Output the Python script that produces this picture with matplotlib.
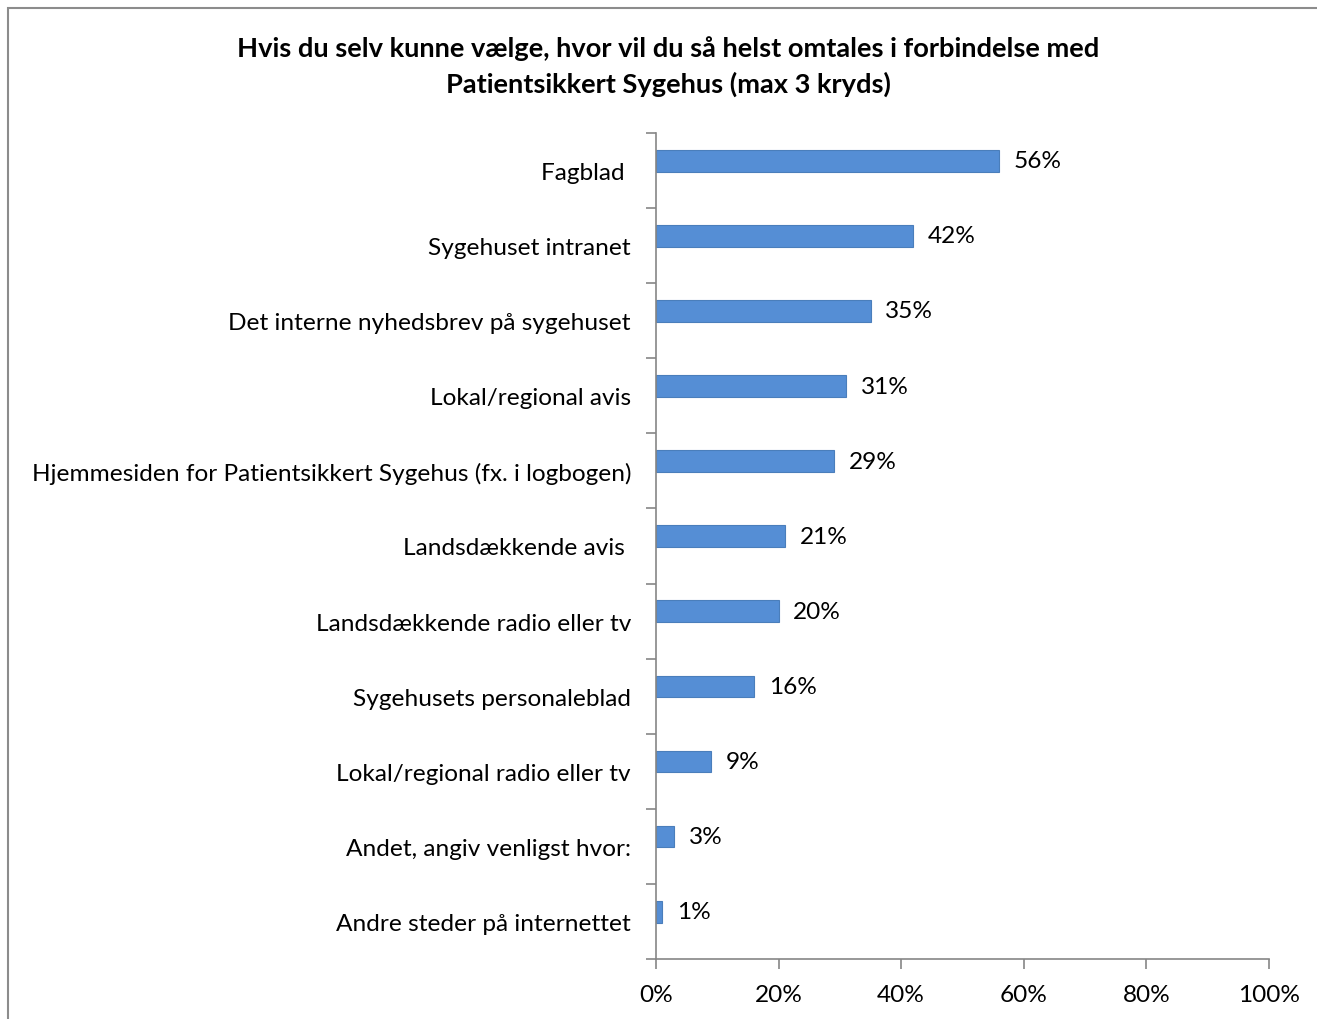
import matplotlib
matplotlib.use("Agg")
import matplotlib.pyplot as plt
from matplotlib.patches import Rectangle
import numpy as np

categories = [
    "Fagblad ",
    "Sygehuset intranet",
    "Det interne nyhedsbrev på sygehuset",
    "Lokal/regional avis",
    "Hjemmesiden for Patientsikkert Sygehus (fx. i logbogen)",
    "Landsdækkende avis ",
    "Landsdækkende radio eller tv",
    "Sygehusets personaleblad",
    "Lokal/regional radio eller tv",
    "Andet, angiv venligst hvor:",
    "Andre steder på internettet",
]
values = [56, 42, 35, 31, 29, 21, 20, 16, 9, 3, 1]
x_ticks = [0, 20, 40, 60, 80, 100]
title = "Hvis du selv kunne vælge, hvor vil du så helst omtales i forbindelse med\nPatientsikkert Sygehus (max 3 kryds)"

plt.rcParams['font.family'] = ['Lato', 'DejaVu Sans']
FS = 17.6

fig = plt.figure(figsize=(13.17, 10.20), dpi=100)
fig.patches.append(Rectangle((8/1317, -0.05), 1.0, 1.05 - 9/1020, transform=fig.transFigure,
                             fill=False, edgecolor='#8c8c8c', linewidth=1.5))
ax = fig.add_axes([656/1317, 60/1020, (1269-656)/1317, (960-134)/1020])

y = np.arange(len(categories))
offset = 0.13
ax.barh(y - offset, values, height=0.29, color='#558ED5', edgecolor='#4A7EBB', linewidth=0.8)
for yi, v in zip(y, values):
    ax.text(v + 2.4, yi - offset, f"{v}%", va='center', ha='left', fontsize=FS, color='black')

ax.set_xlim(0, 100)
ax.set_ylim(len(categories) - 0.5, -0.5)
ax.set_xticks(x_ticks)
ax.set_xticklabels([f"{t}%" for t in x_ticks], fontsize=FS)
ax.set_yticks(np.arange(len(categories) + 1) - 0.5)
ax.set_yticklabels([])
ax.set_yticks(y, minor=True)
ax.set_yticklabels(categories, minor=True, fontsize=FS)
ax.tick_params(axis='y', which='minor', length=0, pad=18)
ax.tick_params(axis='y', which='major', length=7, color='#868686', width=1.2)
ax.tick_params(axis='x', which='major', length=7, color='#868686', width=1.2, pad=11)
for s in ['top', 'right']:
    ax.spines[s].set_visible(False)
for s in ['left', 'bottom']:
    ax.spines[s].set_color('#868686')
    ax.spines[s].set_linewidth(1.2)

fig.text(668/1317, 1 - 67/1020, title, ha='center', va='center', fontsize=19.6,
         fontweight='bold', linespacing=1.5)

fig.savefig("out.png", dpi=100)
